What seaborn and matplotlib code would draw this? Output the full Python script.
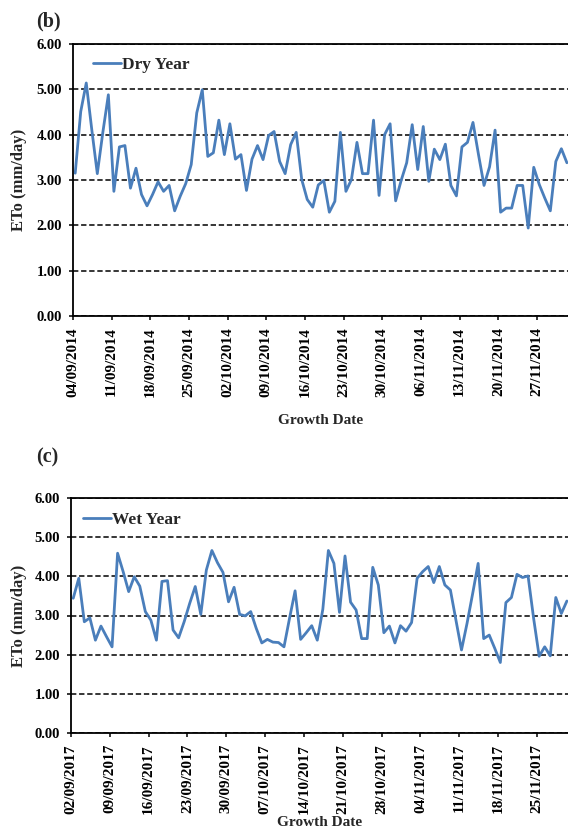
# daily reference evapotranspiration (ETo), dry vs wet growing season
import numpy as np
import pandas as pd
import matplotlib
matplotlib.use("Agg")
import matplotlib.pyplot as plt
import seaborn as sns

# ---- data ----
dry_start = "2014-09-04"
dry_eto = [3.15, 4.51, 5.14, 4.11, 3.14, 4.05, 4.88, 2.75, 3.73, 3.76,
           2.82, 3.26, 2.68, 2.43, 2.68, 2.96, 2.75, 2.88, 2.32, 2.64,
           2.92, 3.34, 4.48, 4.99, 3.52, 3.60, 4.32, 3.56, 4.24, 3.46,
           3.56, 2.77, 3.46, 3.76, 3.45, 3.98, 4.07, 3.41, 3.14, 3.78,
           4.05, 3.01, 2.57, 2.40, 2.89, 2.99, 2.29, 2.53, 4.05, 2.75,
           3.01, 3.83, 3.14, 3.14, 4.32, 2.66, 4.00, 4.24, 2.54, 2.99,
           3.38, 4.22, 3.23, 4.18, 2.97, 3.68, 3.45, 3.79, 2.88, 2.65,
           3.73, 3.83, 4.27, 3.56, 2.88, 3.29, 4.10, 2.29, 2.38, 2.38,
           2.88, 2.88, 1.94, 3.28, 2.90, 2.60, 2.32, 3.41, 3.69, 3.38]

wet_start = "2017-09-02"
wet_eto = [3.44, 3.95, 2.84, 2.94, 2.37, 2.73, 2.46, 2.20, 4.59, 4.12,
           3.61, 3.99, 3.75, 3.10, 2.88, 2.37, 3.87, 3.89, 2.63, 2.43,
           2.84, 3.31, 3.74, 3.03, 4.16, 4.66, 4.35, 4.10, 3.35, 3.72,
           3.03, 2.99, 3.10, 2.67, 2.30, 2.39, 2.32, 2.31, 2.20, 2.93,
           3.63, 2.39, 2.56, 2.74, 2.37, 3.16, 4.66, 4.33, 3.08, 4.52,
           3.34, 3.14, 2.41, 2.41, 4.23, 3.78, 2.56, 2.73, 2.30, 2.74,
           2.60, 2.82, 3.95, 4.12, 4.25, 3.84, 4.25, 3.78, 3.65, 2.88,
           2.12, 2.80, 3.55, 4.33, 2.41, 2.50, 2.16, 1.80, 3.33, 3.46,
           4.05, 3.97, 4.01, 2.93, 1.96, 2.20, 1.97, 3.46, 3.05, 3.37]

y_ticks = [0, 1, 2, 3, 4, 5, 6]

sns.set_style("ticks")
plt.rcParams["font.family"] = ["Liberation Serif", "DejaVu Serif"]
plt.rcParams["font.weight"] = "bold"
plt.rcParams["axes.labelweight"] = "bold"

W, H = 568, 831
fig = plt.figure(figsize=(W / 100, H / 100), dpi=100)

# panel tag, legend name, start, values, axes box (px: left, top, right, bottom), legend anchor, tag y, xlabel y
panels = [
    ("(b)", "Dry Year", dry_start, dry_eto, (73, 44, 568, 316), (0.040, 0.922), 21, -0.36),
    ("(c)", "Wet Year", wet_start, wet_eto, (71, 498, 568, 733), (0.024, 0.908), 457, -0.352),
]

for tag, name, start, eto, box, leg_xy, tag_y, xl_y in panels:
    l, t, r, b = box
    ax = fig.add_axes([l / W, 1 - b / H, (r - l) / W, (b - t) / H])
    df = pd.DataFrame({"day": np.arange(len(eto)) + 0.4, "eto": eto})

    ax.yaxis.grid(True, color="black", linestyle=(0, (3.5, 1.8)), linewidth=1.1)
    sns.lineplot(data=df, x="day", y="eto", ax=ax, color="#4a7ebb",
                 linewidth=2.0, label=name)

    ax.set_xlim(0, 89.6)
    ax.set_ylim(0, 6)
    ax.set_yticks(y_ticks)
    ax.set_yticklabels([f"{v:.2f}" for v in y_ticks])
    dates = pd.date_range(start, periods=len(eto))
    ax.set_xticks(np.arange(0, len(eto), 7))
    ax.set_xticklabels(dates[::7].strftime("%d/%m/%Y"), rotation=90)

    for s in ["left", "bottom", "top"]:
        ax.spines[s].set_color("black")
        ax.spines[s].set_linewidth(1.3)
    ax.spines["right"].set_visible(False)
    ax.tick_params(direction="out", length=3, width=1.1, pad=5,
                   labelsize=10.5, colors="black")
    ax.tick_params(axis="x", labelsize=11)

    ax.set_ylabel("ETo (mm/day)", fontsize=12)
    ax.yaxis.set_label_coords((27 - l) / (r - l), 0.5)
    ax.set_xlabel("Growth Date", fontsize=11)
    ax.xaxis.set_label_coords(0.5, xl_y)

    ax.legend(loc="center left", bbox_to_anchor=leg_xy, frameon=False,
              borderpad=0, borderaxespad=0, handlelength=1.6,
              handletextpad=0.1, prop={"size": 12.5, "weight": "bold"})

    fig.text(36 / W, 1 - tag_y / H, tag, fontsize=14.5, fontweight="bold",
             ha="left", va="center")

fig.savefig("out.png", dpi=100)
